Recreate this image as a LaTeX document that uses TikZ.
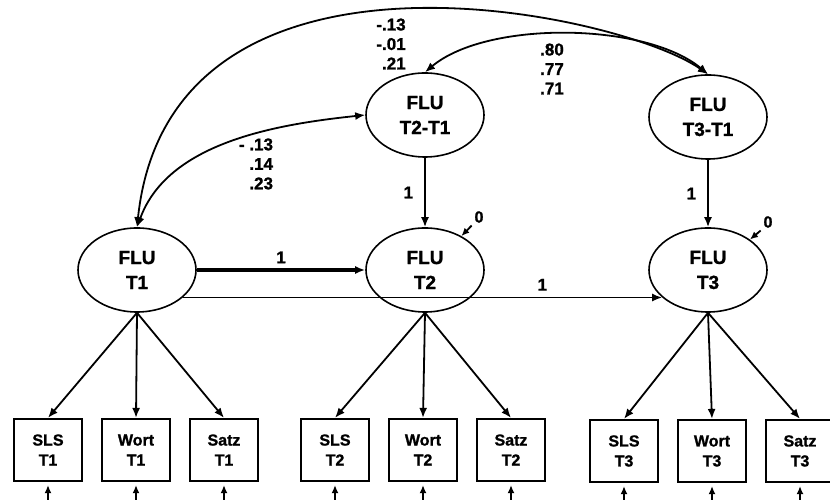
\documentclass[tikz,border=0pt]{standalone}
\usepackage{fontspec}
\setmainfont{Liberation Sans}[BoldFeatures={FakeBold=1.2}]
\usetikzlibrary{shapes, arrows.meta, positioning}
\tikzstyle{latent}=[draw,ellipse,line width=1.6pt,minimum width=118pt,minimum height=84pt,inner sep=0pt,align=center,font=\fontsize{19}{25}\selectfont\bfseries]
\tikzstyle{manifest}=[draw,rectangle,line width=2.2pt,minimum width=68pt,minimum height=62pt,inner sep=0pt,align=center,font=\fontsize{16}{20}\selectfont\bfseries]
\tikzstyle{coef}=[align=right,inner sep=0pt,font=\fontsize{17}{19.5}\selectfont\bfseries]
\tikzstyle{fixed}=[inner sep=2pt,font=\fontsize{16}{18}\selectfont\bfseries]
\tikzstyle{small}=[-{Latex[length=8pt,width=7pt]}]

\begin{document}
\begin{tikzpicture}[node distance=88pt,>={Latex[length=10pt,width=8pt]},line width=1.8pt]
    \useasboundingbox (0,0) rectangle (830pt,500pt);
    % latent factors
    \node[latent] (t1) at (137pt,230pt) {FLU\\T1};
    \node[latent, right of=t1, node distance=288pt] (t2) {FLU\\T2};
    \node[latent, right of=t2, node distance=283pt] (t3) {FLU\\T3};
    \node[latent, above of=t2, node distance=155pt] (d21) {FLU\\T2-T1};
    \node[latent, above of=t3, node distance=153pt] (d31) {FLU\\T3-T1};
    % indicators
    \node[manifest, below of=t1, node distance=180pt, xshift=-1pt] (wort1) {Wort\\T1};
    \node[manifest, below of=t2, node distance=180pt, xshift=-2pt] (wort2) {Wort\\T2};
    \node[manifest, below of=t3, node distance=181pt, xshift=4pt] (wort3) {Wort\\T3};
    \foreach \i in {1,2,3} {
        \node[manifest, left of=wort\i] (sls\i) {SLS\\T\i};
        \node[manifest, right of=wort\i] (satz\i) {Satz\\T\i};
        \draw[->] (t\i.south) -- (sls\i.north);
        \draw[->] (t\i.south) -- (wort\i.north);
        \draw[->] (t\i.south) -- (satz\i.north);
    }
    % residuals
    \foreach \b in {sls1,wort1,satz1,sls2,wort2,satz2,sls3,wort3,satz3} {
        \coordinate (e\b) at ([yshift=-20pt]\b.south);
        \draw[small, shorten >=3pt] (e\b) -- (\b.south);
    }
    % paths
    \draw[->, line width=3.5pt] (t1) -- (t2) node[midway, above=5pt, coef] (p12) {1};
    \draw[->] (t1.-31) -- (t3.211) node[pos=0.75, above=6pt, coef] (p13) {1};
    \draw[->] (d21) -- (t2) node[midway, left=11pt, coef] (p2) {1};
    \draw[->] (d31) -- (t3) node[midway, left=11pt, coef] (p3) {1};
    \node[fixed] (z2) at ([xshift=54pt, yshift=53pt]t2.center) {0};
    \node[fixed] (z3) at ([xshift=60pt, yshift=48pt]t3.center) {0};
    \draw[small] (z2.south west) -- (t2.43);
    \draw[small] (z3.south west) -- (t3.36);
    % covariances
    \draw[<->] (t1.north) to[out=84, in=145, out distance=314pt, in distance=108pt] (d31.north);
    \draw[<->] (t1.north) to[out=70, in=186, distance=90pt] (d21.west);
    \draw[<->] (d21.north) to[out=40, in=140, distance=81pt] (d31.north);
    \node[coef] (r31) at (391pt,456pt) {-.13\\-.01\\.21};
    \node[coef] (r21) at (256pt,336pt) {- .13\\.14\\.23};
    \node[coef] (r32) at (552pt,431pt) {.80\\.77\\.71};
\end{tikzpicture}
\end{document}
